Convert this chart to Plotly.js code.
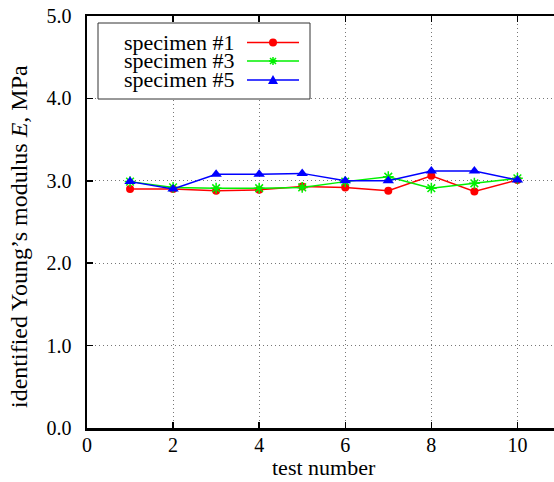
<!DOCTYPE html>
<html>
<head>
<meta charset="utf-8">
<script src="https://cdn.plot.ly/plotly-3.0.1.min.js"></script>
<style>html,body{margin:0;padding:0;background:#fff;}#chart{width:554px;height:482px;}</style>
</head>
<body>
<div id="chart"></div>
<script>
const testNumber = [1, 2, 3, 4, 5, 6, 7, 8, 9, 10];
const specimen1 = [2.90, 2.90, 2.88, 2.89, 2.93, 2.92, 2.88, 3.06, 2.87, 3.01];
const specimen3 = [2.99, 2.92, 2.91, 2.91, 2.92, 2.99, 3.05, 2.91, 2.97, 3.03];
const specimen5 = [2.99, 2.90, 3.08, 3.08, 3.09, 3.00, 3.00, 3.12, 3.12, 3.01];
const seriesNames = ['specimen #1', 'specimen #3', 'specimen #5'];
const seriesColors = ['#ff0000', '#00f000', '#0000ff'];
const xTitle = 'test number';
const yTitle = 'identified Young’s modulus <i>E</i>, MPa';

const W = 554, H = 482;
const M = {l: 87, r: 0, t: 16, b: 54};
const pw = W - M.l - M.r, ph = H - M.t - M.b;
const px = x => (x - M.l) / pw;
const py = y => 1 - (y - M.t) / ph;

const FAM = '"Liberation Serif", "Times New Roman", serif';
const tickFont = {family: FAM, size: 20, color: '#000'};
const textFont = {family: FAM, size: 22, color: '#000'};
const yTitleFont = {family: FAM, size: 24, color: '#000'};

const traces = [
  {x: testNumber, y: specimen1, name: seriesNames[0], mode: 'lines+markers',
   line: {color: seriesColors[0], width: 1.5},
   marker: {symbol: 'circle', size: 8, color: seriesColors[0]}},
  {x: testNumber, y: specimen3, name: seriesNames[1], mode: 'lines+markers',
   line: {color: seriesColors[1], width: 1.5},
   marker: {symbol: 'asterisk-open', size: 9, color: seriesColors[1], line: {color: seriesColors[1], width: 1.5}}},
  {x: testNumber, y: specimen5, name: seriesNames[2], mode: 'lines+markers',
   line: {color: seriesColors[2], width: 1.5},
   marker: {symbol: 'triangle-up', size: 10, color: seriesColors[2]}}
];

// custom legend (text left, symbol right as in the reference)
const shapes = [];
const annotations = [];
shapes.push({type: 'rect', xref: 'paper', yref: 'paper', x0: px(98), x1: px(310), y0: py(99), y1: py(23),
  line: {color: '#333', width: 1}, fillcolor: '#fff', layer: 'above'});
const rowsY = [42.5, 61, 80];
rowsY.forEach((ry, i) => {
  annotations.push({xref: 'paper', yref: 'paper', x: px(236), y: py(ry), xanchor: 'right', yanchor: 'middle',
    text: seriesNames[i], showarrow: false, font: textFont, borderpad: 0});
  shapes.push({type: 'line', xref: 'paper', yref: 'paper', x0: px(247), x1: px(299), y0: py(ry), y1: py(ry),
    line: {color: seriesColors[i], width: 1.5}, layer: 'above'});
});
const mx = px(273);
shapes.push({type: 'circle', xref: 'paper', yref: 'paper', xsizemode: 'pixel', ysizemode: 'pixel',
  xanchor: mx, yanchor: py(rowsY[0]), x0: -4, x1: 4, y0: -4, y1: 4,
  fillcolor: seriesColors[0], line: {color: seriesColors[0], width: 0}, layer: 'above'});
shapes.push({type: 'path', xref: 'paper', yref: 'paper', xsizemode: 'pixel', ysizemode: 'pixel',
  xanchor: mx, yanchor: py(rowsY[1]),
  path: 'M-4,0L4,0M0,-4L0,4M-3,-3L3,3M-3,3L3,-3',
  line: {color: seriesColors[1], width: 1.5}, layer: 'above'});
shapes.push({type: 'path', xref: 'paper', yref: 'paper', xsizemode: 'pixel', ysizemode: 'pixel',
  xanchor: mx, yanchor: py(rowsY[2]),
  path: 'M-5,-4L5,-4L0,5Z',
  fillcolor: seriesColors[2], line: {color: seriesColors[2], width: 0}, layer: 'above'});

// axis titles placed as in the reference
annotations.push({xref: 'paper', yref: 'paper', x: px(324), y: py(481), xanchor: 'center', yanchor: 'bottom',
  text: xTitle, showarrow: false, font: textFont, borderpad: 0});
annotations.push({xref: 'paper', yref: 'paper', x: px(19), y: py(237), xanchor: 'center', yanchor: 'middle',
  text: yTitle, textangle: -90, showarrow: false, font: yTitleFont, borderpad: 0});

const layout = {
  width: W, height: H,
  margin: M,
  paper_bgcolor: '#fff', plot_bgcolor: '#fff',
  showlegend: false,
  font: tickFont,
  xaxis: {
    range: [0, 10.85], dtick: 2, tick0: 0,
    showline: true, linecolor: '#000', linewidth: 2.5, mirror: 'ticks',
    ticks: 'inside', ticklen: 6, tickwidth: 1.5, tickcolor: '#000',
    showgrid: true, gridcolor: '#777', griddash: '1px,3px', gridwidth: 1,
    zeroline: false,
    tickfont: tickFont, ticklabelstandoff: -3
  },
  yaxis: {
    range: [0, 5], dtick: 1, tick0: 0, tickformat: '.1f',
    showline: true, linecolor: '#000', linewidth: 2.5, mirror: false,
    ticks: 'inside', ticklen: 6, tickwidth: 1.5, tickcolor: '#000',
    showgrid: true, gridcolor: '#777', griddash: '1px,3px', gridwidth: 1,
    zeroline: false,
    tickfont: tickFont, ticklabelstandoff: 9
  },
  shapes: shapes,
  annotations: annotations
};

Plotly.newPlot('chart', traces, layout, {displayModeBar: false, staticPlot: true});
</script>
</body>
</html>
